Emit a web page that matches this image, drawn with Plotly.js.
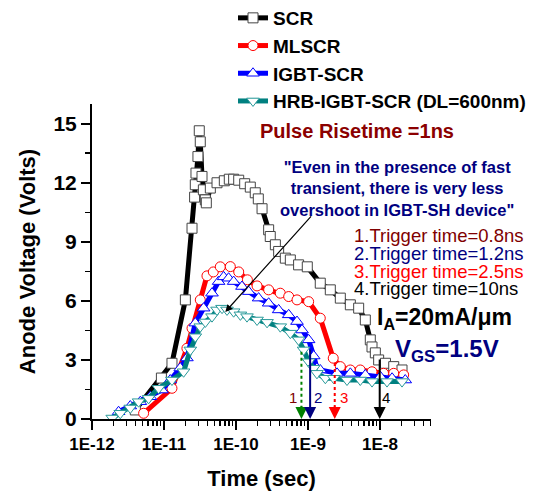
<!DOCTYPE html>
<html><head><meta charset="utf-8">
<script src="https://cdn.plot.ly/plotly-3.0.1.min.js"></script>
<style>html,body{margin:0;padding:0;background:#fff}#chart{width:548px;height:497px}</style>
</head><body><div id="chart"></div>
<script>
// ---- data ----
const seriesNames = ['SCR', 'MLSCR', 'IGBT-SCR', 'HRB-IGBT-SCR (DL=600nm)'];

const scrTime = [4.0e-12, 9.2e-12, 1.29e-11, 1.98e-11, 2.45e-11, 2.66e-11, 2.72e-11, 2.78e-11, 2.96e-11, 3.09e-11, 3.19e-11, 3.37e-11, 3.52e-11, 3.75e-11, 3.87e-11, 4.40e-11, 5.45e-11, 6.88e-11, 8.07e-11, 9.27e-11, 1.09e-10, 1.32e-10, 1.58e-10, 1.85e-10, 2.04e-10, 2.30e-10, 2.84e-10, 2.99e-10, 3.52e-10, 3.91e-10, 4.84e-10, 5.68e-10, 7.40e-10, 9.77e-10, 1.48e-9, 2.04e-9, 2.81e-9, 3.87e-9, 5.05e-9, 6.25e-9, 7.33e-9, 7.74e-9, 8.61e-9, 9.57e-9, 1.19e-8, 1.55e-8, 2.02e-8];
const scrV    = [0.46, 2.08, 2.83, 6.05, 9.69, 11.27, 11.9, 12.49, 13.33, 14.64, 14.08, 12.32, 11.64, 11.13, 10.98, 11.73, 12.0, 12.1, 12.18, 12.18, 12.13, 11.95, 11.78, 11.49, 11.18, 10.68, 9.61, 9.27, 8.85, 8.51, 8.17, 8.08, 7.83, 7.73, 6.9, 6.56, 6.14, 5.8, 5.63, 5.03, 4.02, 3.66, 3.36, 3.0, 2.83, 2.66, 2.49];

const mlTime = [5.21e-12, 1.29e-11, 2.08e-11, 2.45e-11, 3.19e-11, 3.95e-11, 4.84e-11, 6.05e-11, 8.34e-11, 1.09e-10, 1.44e-10, 1.96e-10, 2.84e-10, 4.12e-10, 5.39e-10, 7.03e-10, 1.02e-9, 1.48e-9, 2.24e-9, 2.81e-9, 3.87e-9, 5.32e-9, 7.74e-9, 1.12e-8, 1.55e-8, 2.13e-8];
const mlV    = [0.29, 1.56, 3.59, 4.61, 6.05, 7.27, 7.47, 7.73, 7.74, 7.47, 7.07, 6.76, 6.56, 6.39, 6.22, 6.05, 5.96, 5.12, 3.09, 2.66, 2.49, 2.49, 2.40, 2.32, 2.32, 2.24];

const igTime = [2.34e-12, 3.40e-12, 4.69e-12, 6.46e-12, 9.38e-12, 1.22e-11, 1.68e-11, 2.08e-11, 2.72e-11, 3.55e-11, 4.64e-11, 5.73e-11, 6.73e-11, 7.89e-11, 9.27e-11, 1.21e-10, 1.50e-10, 2.06e-10, 2.84e-10, 3.91e-10, 5.39e-10, 7.03e-10, 8.26e-10, 1.02e-9, 1.20e-9, 1.33e-9, 1.48e-9, 2.53e-9, 3.87e-9, 6.25e-9, 1.01e-8, 1.47e-8, 2.24e-8];
const igV    = [0.37, 0.66, 0.88, 1.13, 1.47, 1.98, 2.59, 3.10, 4.87, 5.63, 6.39, 6.98, 7.22, 7.15, 6.98, 6.73, 6.47, 6.14, 5.88, 5.54, 5.29, 4.95, 4.52, 4.02, 3.20, 2.58, 2.49, 2.32, 2.32, 2.24, 2.15, 2.07, 1.98];

const hrTime = [1.91e-12, 2.47e-12, 3.40e-12, 4.44e-12, 6.11e-12, 8.41e-12, 1.29e-11, 1.87e-11, 2.32e-11, 2.72e-11, 3.19e-11, 3.75e-11, 4.64e-11, 5.45e-11, 6.40e-11, 7.50e-11, 9.27e-11, 1.15e-10, 1.42e-10, 1.96e-10, 2.70e-10, 4.12e-10, 5.68e-10, 7.40e-10, 8.69e-10, 1.02e-9, 1.20e-9, 1.33e-9, 1.74e-9, 2.27e-9, 3.48e-9, 5.32e-9, 7.74e-9, 1.25e-8, 2.02e-8];
const hrV    = [0.05, 0.29, 0.56, 0.88, 1.05, 1.56, 1.98, 2.40, 3.51, 4.18, 4.69, 4.93, 5.20, 5.54, 5.63, 5.54, 5.45, 5.29, 5.20, 5.03, 4.91, 4.69, 4.36, 4.02, 3.51, 2.91, 2.58, 2.32, 2.07, 2.07, 1.98, 1.98, 1.90, 1.90, 1.90];

// trigger markers (arrows down to the time axis)
const triggerLabels = ['1', '2', '3', '4'];
const triggerTimes  = [8.1e-10, 1.07e-9, 2.35e-9, 9.9e-9];
const triggerTops   = [3.42, 3.6, 2.85, 3.1];
const triggerText   = ['1.Trigger time=0.8ns', '2.Trigger time=1.2ns', '3.Trigger time=2.5ns', '4.Trigger time=10ns'];

// axis ticks
const xTickVals = [1e-12, 1e-11, 1e-10, 1e-9, 1e-8];
const xTickText = ['1E-12', '1E-11', '1E-10', '1E-9', '1E-8'];
const yTickVals = [0, 3, 6, 9, 12, 15];
const yTickText = ['0', '3', '6', '9', '12', '15'];

// ---- styling ----
const FONT = 'Liberation Sans, Arial, sans-serif';
const colors = ['#000000', '#ff0000', '#0000ff', '#008080'];
const markerLine = ['#444444', '#ff0000', '#0000ff', '#2a9a9a'];
const symbols = ['square', 'circle', 'triangle-up', 'triangle-down'];
const sizes = [10, 10, 11, 11];
const trigColors = ['#008000', '#000080', '#ff0000', '#000000'];
const trigLabelColors = ['#800000', '#000080', '#ff0000', '#000000'];
const trigTextColors = ['#800000', '#000080', '#ff0000', '#000000'];
const trigDash = ['dot', 'solid', 'dot', 'solid'];

const xs = [scrTime, mlTime, igTime, hrTime];
const ys = [scrV, mlV, igV, hrV];

const traces = seriesNames.map((n, i) => ({
  type: 'scatter', mode: 'lines+markers', name: n,
  x: xs[i], y: ys[i],
  line: {color: colors[i], width: 5},
  marker: {symbol: symbols[i], size: sizes[i], color: '#ffffff', line: {color: markerLine[i], width: 1}},
  hoverinfo: 'skip'
}));

// dotted trigger shafts drawn as traces
triggerTimes.forEach((t, i) => {
  if (trigDash[i] !== 'solid') {
    traces.push({type: 'scatter', mode: 'lines', x: [t, t], y: [triggerTops[i], 0.5], showlegend: false,
      line: {color: trigColors[i], width: 2, dash: trigDash[i]}, hoverinfo: 'skip'});
  }
});

// plot area in pixels (for placing free text)
const L = 92, R = 431, T = 104, B = 419;
const pX = px => (px - L) / (R - L);
const pY = py => (B - py) / (B - T);

const annotations = [];
annotations.push({xref: 'paper', yref: 'paper', x: pX(258), y: pY(131), xanchor: 'left', yanchor: 'middle', showarrow: false,
  text: 'Pulse Risetime =1ns', font: {family: FONT, size: 20, color: '#8b0000', weight: 'bold'}});
annotations.push({xref: 'paper', yref: 'paper', x: pX(397), y: pY(188), xanchor: 'center', yanchor: 'middle', showarrow: false, align: 'center',
  text: '"Even in the presence of fast<br>transient, there is very less<br>overshoot in IGBT-SH device"',
  font: {family: FONT, size: 16.5, color: '#000080', weight: 'bold'}});
const trigTextY = [236, 253, 271, 288];
triggerText.forEach((s, i) => annotations.push({xref: 'paper', yref: 'paper', x: pX(352), y: pY(trigTextY[i]), xanchor: 'left', yanchor: 'middle', showarrow: false,
  text: s, font: {family: FONT, size: 18.5, color: trigTextColors[i]}}));
annotations.push({xref: 'paper', yref: 'paper', x: pX(375), y: pY(318), xanchor: 'left', yanchor: 'middle', showarrow: false,
  text: 'I<sub>A</sub>=20mA/μm', font: {family: FONT, size: 23, color: '#000000', weight: 'bold'}});
annotations.push({xref: 'paper', yref: 'paper', x: pX(393), y: pY(350), xanchor: 'left', yanchor: 'middle', showarrow: false,
  text: 'V<sub>GS</sub>=1.5V', font: {family: FONT, size: 24, color: '#000080', weight: 'bold'}});
// pointer arrow from the quote to the HRB curve
annotations.push({xref: 'x', yref: 'y', x: Math.log10(7.1e-11), y: 5.44, axref: 'x', ayref: 'y', ax: Math.log10(1.15e-9), ay: 10.37,
  showarrow: true, arrowhead: 2, arrowsize: 1.2, arrowwidth: 1.2, arrowcolor: '#000000', text: ''});
// trigger arrows
triggerTimes.forEach((t, i) => {
  const lx = Math.log10(t);
  if (trigDash[i] === 'solid') {
    annotations.push({xref: 'x', yref: 'y', x: lx, y: 0, axref: 'x', ayref: 'y', ax: lx, ay: triggerTops[i],
      showarrow: true, arrowhead: 2, arrowsize: 1.2, arrowwidth: 2, arrowcolor: trigColors[i], text: ''});
  } else {
    annotations.push({xref: 'x', yref: 'y', x: lx, y: 0, ax: 0, ay: -14,
      showarrow: true, arrowhead: 2, arrowsize: 1.2, arrowwidth: 2, arrowcolor: trigColors[i], text: ''});
  }
});
const trigLabelX = [293, 318, 344, 386];
triggerLabels.forEach((s, i) => annotations.push({xref: 'paper', yref: 'paper', x: pX(trigLabelX[i]), y: pY(397), xanchor: 'center', yanchor: 'middle', showarrow: false,
  text: s, font: {family: FONT, size: 15, color: trigLabelColors[i]}}));

// minor tick positions of the log axis (2..9 in each decade)
const minorX = [];
for (let e = -12; e <= -8; e++) for (let m = 2; m <= 9; m++) minorX.push(m * Math.pow(10, e));

const layout = {
  width: 548, height: 497,
  margin: {l: L, r: 548 - R, t: T, b: 497 - B, pad: 0, autoexpand: false},
  paper_bgcolor: '#ffffff', plot_bgcolor: '#ffffff',
  font: {family: FONT, color: '#000000'},
  showlegend: true,
  legend: {x: pX(233), y: pY(-1), xanchor: 'left', yanchor: 'top', bgcolor: 'rgba(0,0,0,0)', borderwidth: 0,
    font: {family: FONT, size: 19, color: '#000', weight: 'bold'}},
  xaxis: {type: 'log', range: [-12, -7.292], showline: true, linewidth: 2, linecolor: '#000', mirror: false,
    ticks: 'outside', ticklen: 9, tickwidth: 2, tickcolor: '#000',
    tickmode: 'array', tickvals: xTickVals, ticktext: xTickText,
    tickfont: {family: FONT, size: 17, weight: 'bold'},
    minor: {tickmode: 'array', tickvals: minorX, ticks: 'outside', ticklen: 5, tickwidth: 1.5, tickcolor: '#000', showgrid: false},
    showgrid: false, zeroline: false,
    title: {text: 'Time (sec)', font: {family: FONT, size: 22, weight: 'bold'}, standoff: 17}},
  yaxis: {range: [0, 16], showline: true, linewidth: 2, linecolor: '#000',
    ticks: 'outside', ticklen: 9, tickwidth: 2, tickcolor: '#000',
    tickmode: 'array', tickvals: yTickVals, ticktext: yTickText,
    tickfont: {family: FONT, size: 21, weight: 'bold'},
    minor: {dtick: 1.5, tick0: 0, ticks: 'outside', ticklen: 5, tickwidth: 1.5, tickcolor: '#000', showgrid: false},
    showgrid: false, zeroline: false,
    title: {text: 'Anode Voltage (Volts)', font: {family: FONT, size: 22, weight: 'bold'}, standoff: 12}},
  annotations: annotations
};

Plotly.newPlot('chart', traces, layout, {displayModeBar: false, staticPlot: true});
</script>
</body></html>
